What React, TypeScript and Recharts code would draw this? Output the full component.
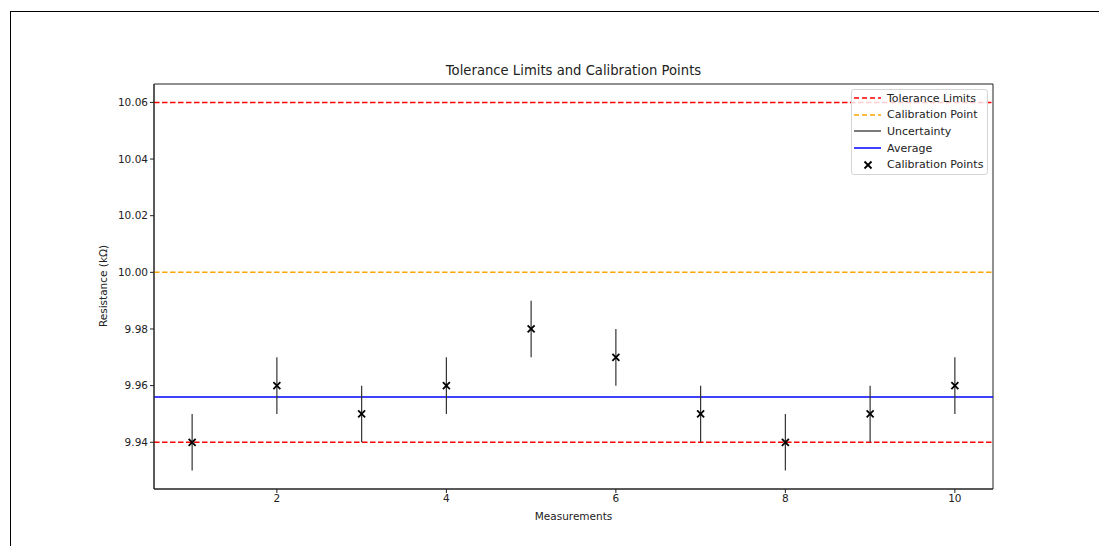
import {
  ComposedChart,
  Scatter,
  ErrorBar,
  XAxis,
  YAxis,
  ReferenceLine,
  ReferenceArea
} from 'recharts';

// measurement index and readings (kΩ)
const measurements = [1, 2, 3, 4, 5, 6, 7, 8, 9, 10];
const readings = [9.94, 9.96, 9.95, 9.96, 9.98, 9.97, 9.95, 9.94, 9.95, 9.96];
const uncertainty = [0.01, 0.01, 0.01, 0.01, 0.01, 0.01, 0.01, 0.01, 0.01, 0.01];

const toleranceLimits = [9.94, 10.06];
const calibrationPoint = 10.0;
const average = 9.956;

const xTicks = [2, 4, 6, 8, 10];
const yTicks = [9.94, 9.96, 9.98, 10.0, 10.02, 10.04, 10.06];
const xDomain: [number, number] = [0.55, 10.45];
const yDomain: [number, number] = [9.9235, 10.0665];

const data = measurements.map((m, i) => ({
  x: m,
  y: readings[i],
  err: uncertainty[i]
}));

const FONT = 'DejaVu Sans, sans-serif';

const Cross = (props: any) => {
  const { cx, cy } = props;
  const s = 3.5;
  return (
    <g>
      <line x1={cx - s} y1={cy - s} x2={cx + s} y2={cy + s} stroke="#000" strokeWidth={1.8} />
      <line x1={cx - s} y1={cy + s} x2={cx + s} y2={cy - s} stroke="#000" strokeWidth={1.8} />
    </g>
  );
};

const legendItems = [
  { label: 'Tolerance Limits', kind: 'line', color: '#ff0000', dash: true },
  { label: 'Calibration Point', kind: 'line', color: '#ffa500', dash: true },
  { label: 'Uncertainty', kind: 'line', color: '#222', dash: false },
  { label: 'Average', kind: 'line', color: '#0000ff', dash: false },
  { label: 'Calibration Points', kind: 'marker', color: '#000', dash: false }
];

const LegendBox = () => (
  <div
    style={{
      position: 'absolute',
      left: 851,
      top: 89,
      width: 137,
      height: 86,
      border: '1px solid #d5d5d5',
      borderRadius: 3,
      background: 'rgba(255,255,255,0.8)',
      fontFamily: FONT,
      fontSize: 11,
      color: '#222',
      boxSizing: 'border-box',
      paddingTop: 0
    }}
  >
    {legendItems.map((it) => (
      <div key={it.label} style={{ display: 'flex', alignItems: 'center', height: 16.6 }}>
        <svg width={34} height={12} style={{ marginLeft: 1 }}>
          {it.kind === 'line' ? (
            <line
              x1={1}
              y1={6}
              x2={28}
              y2={6}
              stroke={it.color}
              strokeWidth={it.label === 'Uncertainty' ? 1.2 : 1.5}
              strokeDasharray={it.dash ? '5 3' : undefined}
            />
          ) : (
            <Cross cx={15} cy={6} />
          )}
        </svg>
        <span>{it.label}</span>
      </div>
    ))}
  </div>
);

export default function App() {
  return (
    <div style={{ position: 'absolute', left: 0, top: 0, width: 1099, height: 546, background: '#fff' }}>
      <div
        style={{
          position: 'absolute',
          left: 10,
          top: 11,
          width: 1089,
          height: 535,
          borderTop: '1px solid #000',
          borderLeft: '1px solid #000'
        }}
      />
      <div
        style={{
          position: 'absolute',
          left: 154,
          width: 839,
          top: 63,
          textAlign: 'center',
          fontFamily: FONT,
          fontSize: 13.2,
          color: '#222'
        }}
      >
        Tolerance Limits and Calibration Points
      </div>
      <div
        style={{
          position: 'absolute',
          left: 154,
          width: 839,
          top: 510,
          textAlign: 'center',
          fontFamily: FONT,
          fontSize: 10.5,
          color: '#222'
        }}
      >
        Measurements
      </div>
      <div
        style={{
          position: 'absolute',
          left: 103,
          top: 286,
          transform: 'translate(-50%, -50%) rotate(-90deg)',
          whiteSpace: 'nowrap',
          fontFamily: FONT,
          fontSize: 10.5,
          color: '#222'
        }}
      >
        Resistance (kΩ)
      </div>
      <div style={{ position: 'absolute', left: 0, top: 0 }}>
        <ComposedChart
          width={1099}
          height={546}
          data={data}
          margin={{ top: 84, right: 106, bottom: 27, left: 94 }}
        >
          <XAxis
            dataKey="x"
            type="number"
            domain={xDomain}
            ticks={xTicks}
            allowDataOverflow
            height={30}
            tickSize={4}
            axisLine={{ stroke: '#222' }}
            tickLine={{ stroke: '#222' }}
            tick={{ fontSize: 10.5, fill: '#222', fontFamily: FONT }}
          />
          <YAxis
            dataKey="y"
            type="number"
            domain={yDomain}
            ticks={yTicks}
            allowDataOverflow
            width={60}
            tickSize={4}
            axisLine={{ stroke: '#222' }}
            tickLine={{ stroke: '#222' }}
            tickFormatter={(v: number) => v.toFixed(2)}
            tick={{ fontSize: 10.5, fill: '#222', fontFamily: FONT }}
          />
          <ReferenceArea
            x1={xDomain[0]}
            x2={xDomain[1]}
            y1={yDomain[0]}
            y2={yDomain[1]}
            fill="none"
            stroke="#222"
            strokeWidth={1}
          />
          {toleranceLimits.map((t) => (
            <ReferenceLine
              key={t}
              y={t}
              stroke="#ff0000"
              strokeWidth={1.5}
              strokeDasharray="5.5 2.5"
            />
          ))}
          <ReferenceLine
            y={calibrationPoint}
            stroke="#ffa500"
            strokeWidth={1.5}
            strokeDasharray="5.5 2.5"
          />
          <ReferenceLine y={average} stroke="#0000ff" strokeWidth={1.5} />
          <Scatter dataKey="y" isAnimationActive={false} shape={<Cross />}>
            <ErrorBar dataKey="err" direction="y" width={0} stroke="#333" strokeWidth={1.2} />
          </Scatter>
        </ComposedChart>
      </div>
      <LegendBox />
    </div>
  );
}
